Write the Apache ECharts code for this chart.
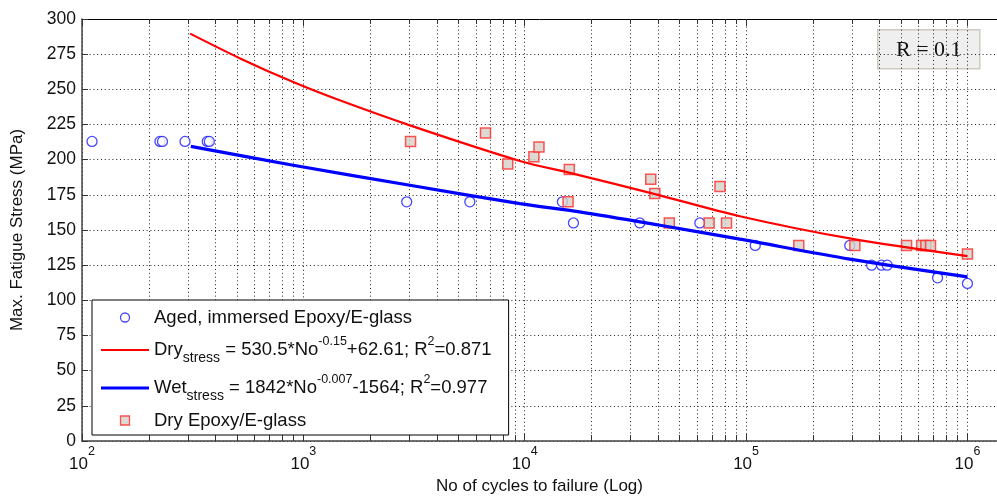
<!DOCTYPE html>
<html>
<head>
<meta charset="utf-8">
<title>Fatigue S-N</title>
<script src="https://cdn.jsdelivr.net/npm/echarts@6/dist/echarts.min.js"></script>
<style>
html, body { margin: 0; padding: 0; background: #fff; }
#main { width: 997px; height: 500px; }
</style>
</head>
<body>
<div id="main"></div>
<script>
// Aged, immersed Epoxy/E-glass : cycles to failure, max stress (MPa)
var agedN = [111, 225, 231, 292, 368, 376, 2930, 5650, 14800, 16600, 33100, 61800, 110000, 294000, 369000, 409000, 434000, 733000, 1000000];
var agedStress = [213, 213, 213, 213, 213, 213, 170, 170, 170, 155, 155, 155, 139, 139, 125, 125, 125, 116, 112];

// Dry Epoxy/E-glass
var dryN = [3050, 6650, 8380, 11000, 11600, 15700, 15900, 37100, 38700, 45000, 68100, 76200, 81600, 173000, 310000, 531000, 621000, 649000, 681000, 1000000];
var dryStress = [213, 219, 197, 202, 209, 170, 193, 186, 176, 155, 155, 181, 155, 139, 139, 139, 139, 139, 139, 133];

// fitted curves, points
var dryFitN = [308, 518, 900, 1460, 3030, 9510, 16000, 38000, 93700, 294000, 1000000];
var dryFitStress = [289.6, 272, 255.2, 242.2, 224.4, 199.1, 190.6, 175.9, 159.8, 144.0, 131.4];
var wetFitN = [310, 900, 3030, 9510, 17700, 40800, 93700, 294000, 1000000];
var wetFitStress = [209.5, 196.0, 181.8, 168.8, 162.9, 153.4, 143.5, 129.3, 116.7];

// minor log grid positions (2..9 x 10^n)
var minorTicks = [200, 300, 400, 500, 600, 700, 800, 900,
    2000, 3000, 4000, 5000, 6000, 7000, 8000, 9000,
    20000, 30000, 40000, 50000, 60000, 70000, 80000, 90000,
    200000, 300000, 400000, 500000, 600000, 700000, 800000, 900000];

var xMin = 100, xMax = 1360000;
var yMin = 0, yMax = 300, yStep = 25;

var FONT = '"Liberation Sans", Arial, sans-serif';

var legendText = {
    'Aged, immersed Epoxy/E-glass': '{p|Aged, immersed Epoxy/E-glass}',
    'Dry fit': '{m|Dry}{sb|stress}{m| = 530.5*No}{sp|-0.15}{m|+62.61; R}{sp|2}{m|=0.871}',
    'Wet fit': '{m|Wet}{sb|stress}{m| = 1842*No}{sp|-0.007}{m|-1564; R}{sp|2}{m|=0.977}',
    'Dry Epoxy/E-glass': '{q|Dry Epoxy/E-glass}'
};

var myChart;
var option;

function pairs(xs, ys) {
    var out = [];
    for (var i = 0; i < xs.length; i++) {
        out.push([xs[i], ys[i]]);
    }
    return out;
}

function renderMinor(params, api) {
    var x = api.value(0);
    var top = api.coord([x, yMax]);
    var bot = api.coord([x, yMin]);
    var px = Math.round(bot[0]) + 0.5;
    return {
        type: 'group',
        children: [
            { type: 'line', shape: { x1: px, y1: bot[1], x2: px, y2: top[1] },
              style: { stroke: '#222', lineWidth: 1, lineDash: [1, 2.8] } },
            { type: 'line', shape: { x1: px, y1: bot[1], x2: px, y2: bot[1] - 6 },
              style: { stroke: '#333', lineWidth: 1 } },
            { type: 'line', shape: { x1: px, y1: top[1], x2: px, y2: top[1] + 5 },
              style: { stroke: '#333', lineWidth: 1 } }
        ]
    };
}

function powLabel(v) {
    var e = Math.log(v) / Math.LN10;
    if (Math.abs(e - Math.round(e)) > 1e-6) return '';
    return '{n|10}{s|' + Math.round(e) + '}';
}

function initEcharts() {
    myChart = echarts.init(document.getElementById('main'), null, { renderer: 'canvas' });
    option = {
        animation: false,
        backgroundColor: '#fff',
        grid: { left: 82, top: 19, right: 0, bottom: 59, containLabel: false, outerBoundsMode: 'none' },
        xAxis: [
            {
                type: 'log',
                min: xMin,
                max: xMax,
                position: 'bottom',
                name: 'No of cycles to failure (Log)',
                nameLocation: 'middle',
                nameGap: 37,
                nameTextStyle: { fontFamily: FONT, fontSize: 17, color: '#111' },
                axisLine: { lineStyle: { color: '#444', width: 1.5 } },
                axisTick: { inside: true, length: 7, lineStyle: { color: '#333' } },
                axisLabel: {
                    margin: 4,
                    formatter: powLabel,
                    rich: {
                        n: { fontFamily: FONT, fontSize: 17, color: '#111', lineHeight: 17, verticalAlign: 'bottom' },
                        s: { fontFamily: FONT, fontSize: 12.5, color: '#111', lineHeight: 28, verticalAlign: 'top', padding: [0, 0, 15, 0] }
                    }
                },
                splitLine: { show: true, lineStyle: { color: '#222', width: 1, type: [1, 2.8] } }
            },
            {
                type: 'log',
                min: xMin,
                max: xMax,
                position: 'top',
                axisLine: { lineStyle: { color: '#000', width: 1 } },
                axisTick: { inside: true, length: 7, lineStyle: { color: '#333' } },
                axisLabel: { show: false },
                splitLine: { show: false }
            }
        ],
        yAxis: {
            type: 'value',
            min: yMin,
            max: yMax,
            interval: yStep,
            name: 'Max. Fatigue Stress (MPa)',
            nameLocation: 'middle',
            nameGap: 56,
            nameTextStyle: { fontFamily: FONT, fontSize: 17, color: '#111' },
            axisLine: { show: true, lineStyle: { color: '#444', width: 1.5 } },
            axisTick: { show: true, inside: true, length: 6, lineStyle: { color: '#333' } },
            axisLabel: { margin: 6, fontFamily: FONT, fontSize: 17.5, color: '#111' },
            splitLine: { show: true, lineStyle: { color: '#222', width: 1, type: [1, 2.8] } }
        },
        legend: {
            orient: 'vertical',
            left: 92,
            top: 300,
            padding: [8, 17, 5, 9],
            itemWidth: 48,
            itemHeight: 9,
            itemGap: 8,
            selectedMode: false,
            backgroundColor: '#fff',
            borderColor: '#000',
            borderWidth: 1,
            borderRadius: 0,
            itemStyle: { borderWidth: 1.3 },
            data: [
                { name: 'Aged, immersed Epoxy/E-glass', icon: 'circle' },
                { name: 'Dry fit', icon: 'path://M0,0 L48,0 L48,2 L0,2 Z' },
                { name: 'Wet fit', icon: 'path://M0,0 L48,0 L48,3 L0,3 Z' },
                { name: 'Dry Epoxy/E-glass', icon: 'path://M0,0 L10,0 L10,10 L0,10 Z' }
            ],
            formatter: function (name) { return legendText[name]; },
            textStyle: {
                fontFamily: FONT, fontSize: 18.5, color: '#111',
                rich: {
                    p: { fontFamily: FONT, fontSize: 18.5, color: '#111', lineHeight: 22, verticalAlign: 'middle' },
                    q: { fontFamily: FONT, fontSize: 18.5, color: '#111', lineHeight: 28, verticalAlign: 'middle' },
                    m: { fontFamily: FONT, fontSize: 18.5, color: '#111', lineHeight: 30, verticalAlign: 'middle' },
                    sb: { fontFamily: FONT, fontSize: 14, color: '#111', lineHeight: 14, verticalAlign: 'bottom' },
                    sp: { fontFamily: FONT, fontSize: 12.5, color: '#111', lineHeight: 12, verticalAlign: 'top' }
                }
            }
        },
        graphic: [
            {
                type: 'group',
                left: 877,
                top: 29,
                z: 100,
                children: [
                    { type: 'rect', shape: { x: 0, y: 0, width: 102, height: 39 },
                      style: { fill: '#efefef', stroke: '#cfcac2', lineWidth: 1.5 } },
                    { type: 'text', x: 51, y: 20,
                      style: { text: 'R = 0.1', fontFamily: '"Liberation Serif", "Times New Roman", serif', fontSize: 22,
                               fill: '#111', align: 'center', verticalAlign: 'middle' } }
                ]
            }
        ],
        series: [
            {
                name: 'minor grid',
                type: 'custom',
                silent: true,
                z: 1,
                renderItem: renderMinor,
                data: minorTicks.map(function (v) { return [v, 0]; }),
                encode: { x: 0, y: 1 }
            },
            {
                name: 'Aged, immersed Epoxy/E-glass',
                type: 'scatter',
                symbol: 'circle',
                symbolSize: 10,
                itemStyle: { color: '#ffffff', borderColor: '#1a1aff', borderWidth: 1.3 },
                data: pairs(agedN, agedStress)
            },
            {
                name: 'Dry fit',
                type: 'line',
                symbol: 'none',
                smooth: 0.3,
                color: '#ff0000',
                lineStyle: { color: '#ff0000', width: 2.2 },
                data: pairs(dryFitN, dryFitStress)
            },
            {
                name: 'Wet fit',
                type: 'line',
                symbol: 'none',
                smooth: 0.3,
                color: '#0000ff',
                lineStyle: { color: '#0000ff', width: 3.2 },
                data: pairs(wetFitN, wetFitStress)
            },
            {
                name: 'Dry Epoxy/E-glass',
                type: 'scatter',
                symbol: 'rect',
                symbolSize: 10,
                itemStyle: { color: '#d4d0c8', borderColor: '#ff2a2a', borderWidth: 1.5 },
                data: pairs(dryN, dryStress)
            }
        ]
    };
    myChart.setOption(option);
}

initEcharts();
</script>
</body>
</html>
